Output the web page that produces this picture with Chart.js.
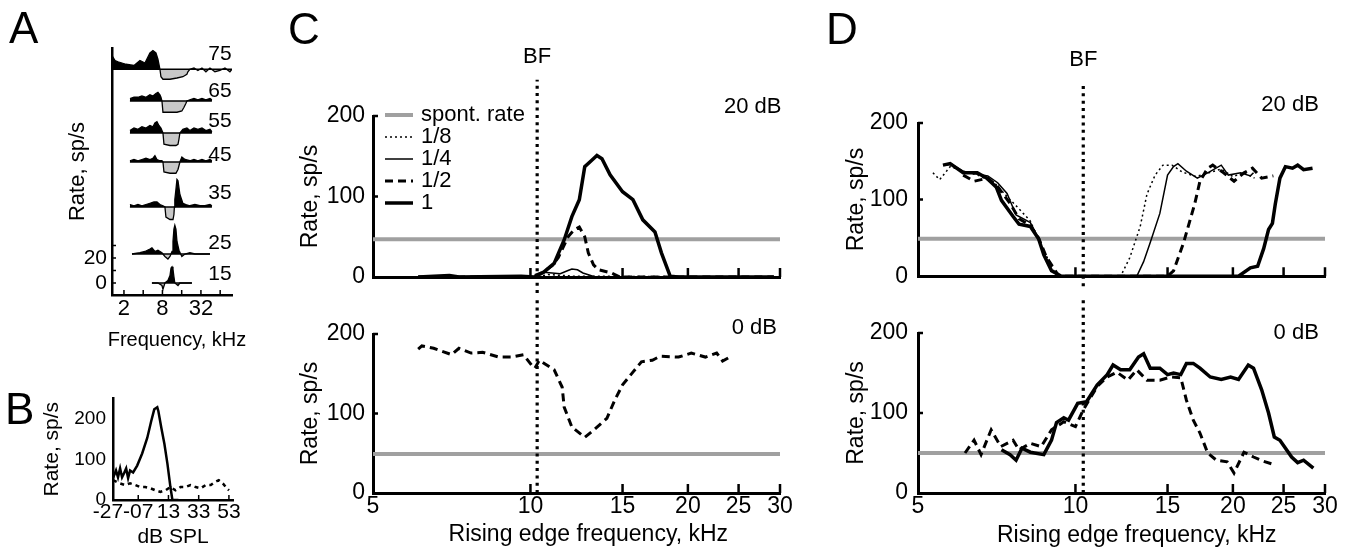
<!DOCTYPE html>
<html>
<head>
<meta charset="utf-8">
<script src="https://cdn.jsdelivr.net/npm/chart.js@4.4.1/dist/chart.umd.min.js"></script>
<style>
  html, body { margin: 0; padding: 0; background: #fff; }
  #fig { position: relative; width: 1356px; height: 553px; overflow: hidden;
         font-family: 'Liberation Sans', Arial, sans-serif; color: #000; }
  #fig canvas { position: absolute; }
  .panel { position: absolute; font-size: 44px; line-height: 1; }
</style>
</head>
<body>
<div id="fig">
  <canvas id="chartA" width="250" height="360" style="left:0;top:0"></canvas>
  <canvas id="chartB" width="250" height="173" style="left:0;top:380px"></canvas>
  <canvas id="chartCtop" width="520" height="300" style="left:290px;top:0"></canvas>
  <canvas id="chartCbot" width="520" height="253" style="left:290px;top:300px"></canvas>
  <canvas id="chartDtop" width="526" height="300" style="left:830px;top:0"></canvas>
  <canvas id="chartDbot" width="526" height="253" style="left:830px;top:300px"></canvas>
  <div class="panel" style="left:9px;top:6px">A</div>
  <div class="panel" style="left:5px;top:387px">B</div>
  <div class="panel" style="left:288px;top:7px">C</div>
  <div class="panel" style="left:826px;top:7px">D</div>
</div>
<script>
// === 共通設定 ===
Chart.defaults.font.family = "'Liberation Sans', Arial, sans-serif";
Chart.defaults.font.size = 23;
Chart.defaults.color = '#000';

// === A: 周波数応答（レベル別） ===
const aLevels = ['75', '65', '55', '45', '35', '25', '15'];
const aOffsets = [171, 145.6, 120, 96.8, 60.8, 23.2, 0];
const aLabelY = [183, 153.6, 129.6, 102.4, 72, 32, 7.2];

const aFreq75 = [1.3, 1.45, 1.61, 1.86, 2.15, 2.87, 3.56, 4.26, 5.1, 5.68, 6.33, 6.8, 7.05, 7.31, 7.58, 8.15, 10.5, 13.5, 16.7, 19.3, 20.0, 21.5, 24.9, 28.7, 33.2, 38.3, 44.3, 53.0, 63.4, 76.0, 90.9, 97.7];
const aRate75 = [11, 7, 6, 5, 4, 3, 7, 5, 13, 15, 13, 8, 4, 0, -6, -8, -8, -7, -6, -4, -2, 0, 1, -1, 1, -2, 1, -2, -1, 1, -2, 0];
const aFreq65 = [2.48, 2.87, 3.31, 3.82, 4.42, 5.1, 5.68, 6.33, 6.8, 7.31, 7.58, 7.86, 8.15, 10.5, 13.5, 16.1, 17.4, 18.6, 19.3, 21.5, 24.9, 28.7, 33.2, 38.3, 44.3, 47.5];
const aRate65 = [2, 3, 3, 4, 3, 5, 4, 6, 7, 5, 3, 0, -9, -9, -9, -8, -5, -2, 0, 1, 2, 1, 2, 1, 2, 1];
const aFreq55 = [2.48, 2.87, 3.31, 3.82, 4.42, 5.1, 5.68, 6.1, 6.56, 7.05, 7.58, 8.15, 8.45, 10.5, 13.0, 14.0, 14.5, 15.0, 16.7, 19.3, 21.5, 24.9, 28.7, 33.2, 38.3, 44.3, 47.5];
const aRate55 = [2, 4, 3, 5, 4, 6, 5, 8, 9, 6, 4, 0, -9, -10, -10, -9, -5, 0, 3, 4, 2, 4, 3, 4, 2, 3, 1];
const aFreq45 = [2.48, 2.87, 3.31, 3.82, 4.42, 5.1, 5.68, 6.1, 6.56, 7.31, 7.86, 8.15, 8.45, 10.5, 13.0, 14.0, 14.5, 15.0, 16.1, 18.0, 21.5, 24.9, 28.7, 33.2, 38.3, 44.3, 47.5];
const aRate45 = [1, 2, 1, 2, 3, 2, 3, 5, 2, 1, 1, 0, -8, -9, -9, -6, -3, 0, 4, 2, 1, 2, 1, 2, 1, 2, 1];
const aFreq35 = [2.48, 2.87, 3.31, 3.82, 4.42, 5.1, 5.89, 6.56, 7.31, 8.15, 8.75, 9.07, 10.5, 11.7, 12.1, 12.3, 12.5, 13.0, 13.5, 14.0, 15.0, 16.7, 18.6, 21.5, 25.8, 30.9, 37.0, 44.3, 47.5];
const aRate35 = [2, 1, 2, 1, 2, 3, 4, 4, 2, 1, 0, -8, -10, -10, -6, 0, 6, 14, 22, 21, 10, 3, 2, 1, 2, 1, 1, 2, 1];
const aFreq25 = [2.67, 3.56, 4.26, 5.1, 5.48, 6.1, 6.8, 7.86, 8.75, 9.75, 10.5, 11.3, 11.7, 12.1, 12.5, 13.0, 13.5, 14.5, 16.1, 18.0, 21.5, 25.8, 30.9, 44.3];
const aRate25 = [0, 1, 2, 4, 5, 2, 3, 1, -2, -4, -2, 2, 10, 20, 23, 20, 10, 3, -2, 0, 1, 0, 0, 0];
const aFreq15 = [5.48, 6.8, 7.86, 8.15, 8.75, 9.75, 10.5, 10.9, 11.3, 11.7, 12.1, 12.5, 14.0, 15.0, 18.0, 23.1];
const aRate15 = [0, 0, -2, -5, 0, 2, 6, 12, 13, 11, 5, 0, -2, 0, 0, 0];

const aTraces = [[aFreq75, aRate75], [aFreq65, aRate65], [aFreq55, aRate55], [aFreq45, aRate45],
                 [aFreq35, aRate35], [aFreq25, aRate25], [aFreq15, aRate15]];
const aFreqTicks = [2, 4, 8, 16, 32, 64];
const aFreqLabels = [2, 8, 32];
const aRateTicks = [0, 10, 20, 30];
const aRateLabels = [0, 20];

// === B: レベル応答 ===
const bLevelTicks = [-27, -7, 13, 33, 53];
const bLevelLabels = ['-27', '-07', '13', '33', '53'];
const bRateTicks = [0, 100, 200];
const bSolidX = [-23.7, -21.7, -20.4, -19, -17.7, -16.4, -15, -13.7, -12.4, -10.4, -7.7, -4.4, -1, 1.6, 3.6, 5.6, 6.3, 8.3, 10.3, 12.3, 14.3, 15.6, 19.6];
const bSolidY = [54, 73, 56, 78, 56, 66, 78, 54, 73, 68, 85, 115, 154, 195, 224, 229, 220, 178, 139, 90, 32, 0, 0];
const bDashX = [-23.7, -19, -15.7, -12.4, -9, -5.7, -2.4, 1, 4.3, 7.6, 11, 14.3, 17.6, 21, 24.3, 27.6, 31, 34.3, 37.6, 41, 43.6, 46.3, 49, 51.6, 53];
const bDashY = [49, 41, 37, 41, 37, 32, 32, 29, 24, 20, 24, 32, 24, 32, 32, 37, 32, 29, 37, 37, 44, 49, 41, 29, 24];

// === C/D: 立ち上がりエッジ周波数 ===
const sweepTicks = [5, 10, 15, 20, 25, 30];
const sweepInner = [10, 15, 20, 25, 30];
const rateTicks = [0, 100, 200];
const bfC = 10.3;
const bfD = 10.35;
const spontC = [47, 49];
const spontD = [49, 50];

// C 20 dB
const cTopX8 = [6.1, 10.3, 10.8, 11.5, 12.0, 29.2];
const cTopY8 = [0, 0, 3, 2, 1, 0];
const cTopX4 = [6.1, 10.2, 10.6, 11.0, 11.4, 11.8, 12.0, 12.3, 12.6, 13.3, 29.2];
const cTopY4 = [0, 0, 6, 5, 4, 8, 10, 9, 5, 0, 0];
const cTopX2 = [6.1, 10.0, 10.5, 11.0, 11.3, 11.8, 12.1, 12.4, 12.7, 12.9, 13.2, 13.5, 14.3, 14.8, 29.2];
const cTopY2 = [0, 0, 5, 14, 24, 50, 58, 62, 50, 30, 15, 9, 5, 0, 0];
const cTopX1 = [6.1, 7.0, 7.3, 9.6, 10.17, 10.6, 11.1, 11.6, 12.0, 12.4, 12.7, 13.1, 13.4, 13.7, 14.2, 15.0, 15.7, 16.4, 17.3, 17.8, 18.5, 19.2, 29.2];
const cTopY1 = [0, 2, 0, 1, 0, 6, 17, 46, 75, 96, 137, 145, 151, 147, 127, 106, 96, 71, 56, 30, 1, 0, 0];
// C 0 dB
const cBotX2 = [6.1, 6.2, 6.53, 7.07, 7.3, 7.7, 8.1, 8.7, 9.2, 9.7, 10.1, 10.2, 10.4, 11.1, 11.5, 11.6, 12.0, 12.7, 13.2, 14.0, 14.5, 15.0, 15.7, 16.3, 17.1, 17.7, 19.2, 20.3, 21.6, 22.7, 23.3, 24.2];
const cBotY2 = [181, 185, 182, 174, 182, 176, 177, 171, 171, 174, 159, 157, 167, 155, 133, 108, 83, 70, 79, 94, 117, 136, 152, 165, 167, 172, 171, 176, 171, 176, 166, 172];

// D 20 dB
const dTopX8 = [5.34, 5.5, 5.76, 6.1, 6.5, 7.0, 7.4, 7.8, 8.2, 8.6, 9.2, 12.2, 12.7, 13.3, 13.7, 14.2, 14.7, 15.3, 16.0, 17.0, 18.0, 19.0, 20.0, 21.0, 22.0];
const dTopY8 = [135, 126, 143, 137, 132, 122, 104, 88, 72, 40, 0, 0, 24, 65, 107, 132, 145, 145, 136, 130, 135, 140, 130, 135, 128];
const dTopX4 = [5.6, 5.8, 6.1, 6.5, 6.8, 7.1, 7.4, 7.7, 8.2, 8.4, 8.7, 9.0, 9.3, 13.1, 13.5, 13.9, 14.5, 15.0, 15.4, 15.7, 16.3, 17.1, 17.9, 19.0, 19.6, 20.7, 21.6, 21.9];
const dTopY4 = [145, 146, 137, 133, 131, 122, 108, 80, 70, 56, 30, 8, 0, 0, 19, 44, 82, 132, 143, 147, 137, 128, 135, 145, 132, 135, 131, 135];
const dTopX2 = [6.1, 6.4, 6.8, 7.1, 7.5, 7.8, 8.2, 8.5, 8.8, 9.3, 15.0, 15.4, 16.1, 16.9, 17.3, 17.9, 18.3, 19.2, 20.1, 21.0, 21.8, 22.7, 23.9];
const dTopY2 = [132, 124, 128, 117, 95, 75, 66, 50, 25, 0, 0, 7, 44, 94, 124, 141, 145, 135, 124, 135, 141, 128, 131];
const dTopX1 = [5.58, 5.76, 6.1, 6.49, 6.77, 7.06, 7.22, 7.6, 7.8, 8.2, 8.5, 8.7, 9.0, 9.4, 20.5, 21.6, 22.3, 22.9, 23.4, 23.8, 24.1, 24.6, 25.2, 26.0, 26.6, 27.3, 28.4];
const dTopY1 = [145, 147, 135, 135, 128, 116, 99, 78, 68, 65, 49, 28, 7, 0, 0, 11, 13, 36, 61, 69, 94, 128, 143, 141, 145, 139, 141];
// D 0 dB
const dBotX2 = [6.15, 6.4, 6.6, 6.9, 7.2, 7.6, 7.8, 8.2, 8.6, 9.0, 9.5, 10.0, 10.35, 11.0, 11.5, 12.0, 12.6, 13.1, 13.7, 14.5, 15.2, 15.9, 16.3, 16.8, 17.3, 17.9, 18.6, 19.5, 20.1, 21.0, 21.9, 22.8, 24.1];
const dBotY2 = [50, 66, 48, 79, 58, 66, 54, 62, 58, 79, 89, 83, 104, 133, 145, 151, 141, 154, 141, 141, 145, 144, 116, 91, 75, 50, 41, 39, 25, 51, 45, 40, 35];
const dBotX1 = [7.22, 7.5, 7.7, 7.9, 8.2, 8.7, 9.0, 9.2, 9.5, 9.7, 10.1, 10.5, 11.0, 11.5, 11.8, 12.2, 12.7, 13.2, 13.5, 13.9, 14.5, 15.0, 15.4, 15.9, 16.3, 16.8, 17.3, 18.1, 19.0, 19.8, 20.5, 21.4, 21.9, 22.7, 23.4, 24.0, 24.6, 25.9, 26.6, 27.3, 28.5];
const dBotY1 = [54, 48, 41, 56, 51, 48, 66, 88, 94, 91, 112, 114, 135, 148, 160, 154, 154, 170, 174, 156, 156, 148, 150, 148, 162, 162, 156, 145, 142, 145, 142, 160, 156, 129, 100, 70, 66, 45, 38, 41, 31];

// === 線スタイル ===
const FONT = "'Liberation Sans', Arial, sans-serif";
const SPONT_GRAY = '#a0a0a0';
const X_TITLE = 'Rising edge frequency, kHz';
const lineStyles = {
  '1/8': { borderWidth: 1.5, borderDash: [2, 3] },
  '1/4': { borderWidth: 1.5, borderDash: [] },
  '1/2': { borderWidth: 3, borderDash: [8, 5] },
  '1':   { borderWidth: 3.5, borderDash: [] },
};

function pts(xs, ys) {
  return xs.map((x, i) => ({ x: x, y: ys[i] }));
}

// === プラグイン: 内向き目盛り ===
const innerTicks = {
  id: 'innerTicks',
  afterDatasetsDraw(chart, args, opts) {
    const { ctx, chartArea: area, scales } = chart;
    ctx.save();
    ctx.strokeStyle = '#000';
    ctx.lineWidth = opts.width || 2;
    ctx.beginPath();
    (opts.x || []).forEach(v => {
      const px = scales.x.getPixelForValue(v);
      ctx.moveTo(px, area.bottom);
      ctx.lineTo(px, area.bottom - opts.xLen);
    });
    (opts.y || []).forEach(v => {
      const py = scales.y.getPixelForValue(v);
      ctx.moveTo(area.left, py);
      ctx.lineTo(area.left + opts.yLen, py);
    });
    ctx.stroke();
    ctx.restore();
  }
};

// === プラグイン: 注記テキスト ===
const notes = {
  id: 'notes',
  afterDraw(chart, args, opts) {
    const { ctx, scales } = chart;
    ctx.save();
    ctx.fillStyle = '#000';
    ctx.textBaseline = 'middle';
    (opts.items || []).forEach(n => {
      ctx.font = `${n.size || 22}px ${FONT}`;
      ctx.textAlign = n.align || 'center';
      ctx.fillText(n.text, scales.x.getPixelForValue(n.x), scales.y.getPixelForValue(n.y));
    });
    ctx.restore();
  }
};

// === プラグイン: 凡例（線見本） ===
const lineKey = {
  id: 'lineKey',
  afterDraw(chart, args, opts) {
    if (!opts.show) return;
    const { ctx, chartArea: area } = chart;
    const items = chart.data.datasets.filter(d => d.key !== undefined).sort((a, b) => a.key - b.key);
    let y = area.top + opts.top;
    const x0 = area.left + opts.left;
    items.forEach(d => {
      ctx.save();
      ctx.strokeStyle = d.borderColor;
      ctx.lineWidth = d.borderWidth;
      ctx.setLineDash(d.borderDash || []);
      ctx.beginPath();
      ctx.moveTo(x0, y);
      ctx.lineTo(x0 + opts.len, y);
      ctx.stroke();
      ctx.restore();
      ctx.save();
      ctx.fillStyle = '#000';
      ctx.font = `22px ${FONT}`;
      ctx.textAlign = 'left';
      ctx.textBaseline = 'middle';
      ctx.fillText(d.label, x0 + opts.len + opts.gap, y);
      ctx.restore();
      y += opts.step;
    });
  }
};

// === C/D パネル描画 ===
function sweepChart(canvasId, p) {
  const datasets = p.series.map(s => Object.assign({
    label: s.label,
    data: pts(s.x, s.y),
    borderColor: '#000',
    pointRadius: 0,
    order: 1,
    key: p.withKey ? s.key : undefined,
  }, lineStyles[s.label]));

  datasets.push({
    label: 'BF',
    data: pts([p.bf, p.bf], p.bfRange),
    borderColor: '#000',
    borderWidth: 3.2,
    borderDash: [3, 4.3],
    pointRadius: 0,
    clip: false,
    order: 2,
  });
  datasets.push({
    label: 'spont. rate',
    data: pts([5, 30], [p.spont, p.spont]),
    borderColor: SPONT_GRAY,
    borderWidth: 4,
    pointRadius: 0,
    order: 3,
    key: p.withKey ? 0 : undefined,
  });

  return new Chart(document.getElementById(canvasId), {
    type: 'line',
    data: { datasets: datasets },
    options: {
      responsive: false,
      animation: false,
      events: [],
      layout: { padding: p.pad },
      plugins: {
        legend: { display: false },
        tooltip: { enabled: false },
        innerTicks: { x: sweepInner, y: [100, 200], xLen: 9, yLen: 5, width: 2.5 },
        notes: { items: p.notes },
        lineKey: { show: p.withKey, left: 12, top: -1, step: 22, len: 28, gap: 8 },
      },
      scales: {
        x: {
          type: 'logarithmic',
          min: 5,
          max: 30,
          afterBuildTicks: s => { s.ticks = sweepTicks.map(v => ({ value: v })); },
          afterFit: s => { s.height = p.showX ? 55 : 10; },
          grid: { display: false, drawTicks: false },
          border: { display: true, color: '#000', width: 3 },
          ticks: { display: p.showX, padding: 0, autoSkip: false, maxRotation: 0, callback: v => String(v) },
        },
        y: {
          min: 0,
          max: 200,
          afterBuildTicks: s => { s.ticks = rateTicks.map(v => ({ value: v })); },
          afterFit: s => { s.width = p.yWidth; },
          grid: { display: false, drawTicks: false },
          border: { display: true, color: '#000', width: 3 },
          ticks: { padding: p.yPad, callback: v => String(v) },
          title: { display: true, text: 'Rate, sp/s', padding: 0 },
        },
      },
    },
    plugins: [innerTicks, notes, lineKey],
  });
}

sweepChart('chartCtop', {
  series: [
    { label: '1/8', x: cTopX8, y: cTopY8, key: 1 },
    { label: '1/4', x: cTopX4, y: cTopY4, key: 2 },
    { label: '1/2', x: cTopX2, y: cTopY2, key: 3 },
    { label: '1', x: cTopX1, y: cTopY1, key: 4 },
  ],
  bf: bfC, bfRange: [-20, 245], spont: spontC[0],
  showX: false, withKey: true, yWidth: 76, yPad: 8,
  pad: { left: 7, right: 30, top: 116, bottom: 13 },
  notes: [
    { text: 'BF', x: bfC, y: 273 },
    { text: '20 dB', x: 30.2, y: 211, align: 'right' },
  ],
});

sweepChart('chartCbot', {
  series: [{ label: '1/2', x: cBotX2, y: cBotY2 }],
  bf: bfC, bfRange: [0, 243], spont: spontC[1],
  showX: true, withKey: false, yWidth: 76, yPad: 8,
  pad: { left: 7, right: 30, top: 34, bottom: 5 },
  notes: [
    { text: '0 dB', x: 29.6, y: 207.5, align: 'right' },
    { text: X_TITLE, x: 12.9, y: -53, size: 23 },
  ],
});

sweepChart('chartDtop', {
  series: [
    { label: '1/8', x: dTopX8, y: dTopY8 },
    { label: '1/4', x: dTopX4, y: dTopY4 },
    { label: '1/2', x: dTopX2, y: dTopY2 },
    { label: '1', x: dTopX1, y: dTopY1 },
  ],
  bf: bfD, bfRange: [-13, 254], spont: spontD[0],
  showX: false, withKey: false, yWidth: 75, yPad: 10,
  pad: { left: 13, right: 31, top: 123, bottom: 8 },
  notes: [
    { text: 'BF', x: bfD, y: 282 },
    { text: '20 dB', x: 29.2, y: 223, align: 'right' },
  ],
});

sweepChart('chartDbot', {
  series: [
    { label: '1/2', x: dBotX2, y: dBotY2 },
    { label: '1', x: dBotX1, y: dBotY1 },
  ],
  bf: bfD, bfRange: [0, 241], spont: spontD[1],
  showX: true, withKey: false, yWidth: 75, yPad: 10,
  pad: { left: 13, right: 31, top: 33, bottom: 5 },
  notes: [
    { text: '0 dB', x: 29.2, y: 200, align: 'right' },
    { text: X_TITLE, x: 13.1, y: -53, size: 23 },
  ],
});

// === A パネル ===
const aDatasets = [];
aTraces.forEach(([fx, ry], i) => {
  const base = aOffsets[i];
  aDatasets.push({
    label: aLevels[i] + ' base',
    data: pts([fx[0], fx[fx.length - 1]], [base, base]),
    borderColor: '#000',
    borderWidth: 1.5,
    pointRadius: 0,
    order: 0,
  });
  aDatasets.push({
    label: aLevels[i],
    data: pts(fx, ry.map(v => v + base)),
    borderColor: '#000',
    borderWidth: 1.3,
    pointRadius: 0,
    fill: { target: { value: base }, above: '#000', below: '#c8c8c8' },
    order: 1,
  });
});

const aNotes = aLevels.map((t, i) => ({ text: t, x: 97, y: aLabelY[i], align: 'right', size: 21 }));
aNotes.push({ text: 'Frequency, kHz', x: 13.5, y: -45.6, size: 20 });

new Chart(document.getElementById('chartA'), {
  type: 'line',
  data: { datasets: aDatasets },
  options: {
    responsive: false,
    animation: false,
    events: [],
    layout: { padding: { left: 65, right: 18, top: 48, bottom: 7 } },
    plugins: {
      legend: { display: false },
      tooltip: { enabled: false },
      innerTicks: { x: aFreqTicks, y: aRateTicks, xLen: 5, yLen: 4, width: 1.5 },
      notes: { items: aNotes },
      lineKey: { show: false },
    },
    scales: {
      x: {
        type: 'logarithmic',
        min: 1.3,
        max: 98,
        afterBuildTicks: s => { s.ticks = aFreqTicks.map(v => ({ value: v })); },
        afterFit: s => { s.height = 58; },
        grid: { display: false, drawTicks: false },
        border: { display: true, color: '#000', width: 2.5 },
        ticks: { padding: 1, autoSkip: false, maxRotation: 0, font: { size: 22 },
                 callback: v => aFreqLabels.includes(v) ? String(v) : '' },
      },
      y: {
        min: -9.6,
        max: 188,
        afterBuildTicks: s => { s.ticks = aRateTicks.map(v => ({ value: v })); },
        afterFit: s => { s.width = 47; },
        grid: { display: false, drawTicks: false },
        border: { display: true, color: '#000', width: 2.5 },
        ticks: { padding: 5, font: { size: 21 }, callback: v => aRateLabels.includes(v) ? String(v) : '' },
        title: { display: true, text: 'Rate, sp/s', padding: 0, font: { size: 22 } },
      },
    },
  },
  plugins: [innerTicks, notes, lineKey],
});

// === B パネル ===
new Chart(document.getElementById('chartB'), {
  type: 'line',
  data: {
    datasets: [
      { label: 'tone', data: pts(bSolidX, bSolidY), borderColor: '#000', borderWidth: 2.5, pointRadius: 0 },
      { label: 'spont', data: pts(bDashX, bDashY), borderColor: '#000', borderWidth: 2.5, borderDash: [4, 4], pointRadius: 0 },
    ],
  },
  options: {
    responsive: false,
    animation: false,
    events: [],
    layout: { padding: { left: 40, right: 17, top: 17, bottom: 3 } },
    plugins: {
      legend: { display: false },
      tooltip: { enabled: false },
      innerTicks: { x: bLevelTicks.slice(1), y: [], xLen: 5, yLen: 0, width: 1.5 },
      notes: { items: [] },
      lineKey: { show: false },
    },
    scales: {
      x: {
        type: 'linear',
        min: -23.7,
        max: 55.7,
        afterBuildTicks: s => { s.ticks = bLevelTicks.map(v => ({ value: v })); },
        afterFit: s => { s.height = 50; },
        grid: { display: false, drawTicks: false },
        border: { display: true, color: '#000', width: 2.5 },
        ticks: { padding: 0, autoSkip: false, maxRotation: 0, font: { size: 21 },
                 callback: (v, i) => bLevelLabels[i] },
        title: { display: true, text: 'dB SPL', padding: 0, font: { size: 21 } },
      },
      y: {
        min: 0,
        max: 251,
        afterBuildTicks: s => { s.ticks = bRateTicks.map(v => ({ value: v })); },
        afterFit: s => { s.width = 73; },
        grid: { display: false, drawTicks: false },
        border: { display: true, color: '#000', width: 2.5 },
        ticks: { padding: 7, font: { size: 19 }, callback: v => String(v) },
        title: { display: true, text: 'Rate, sp/s', padding: 0, font: { size: 21 } },
      },
    },
  },
  plugins: [innerTicks, notes, lineKey],
});
</script>
</body>
</html>
